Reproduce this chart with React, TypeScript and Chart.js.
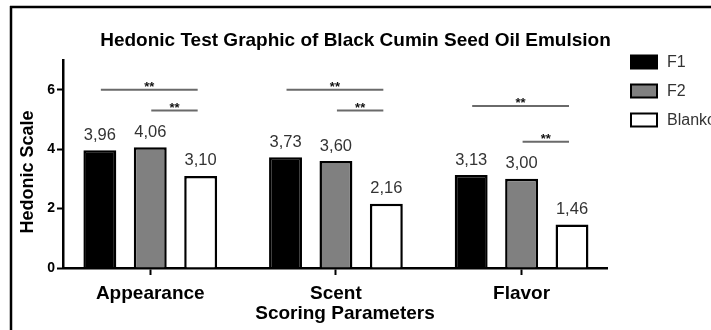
import React, { useEffect, useRef } from "react";
import { Chart, registerables } from "chart.js";

Chart.register(...registerables);

const FONT = "'Liberation Sans', Arial, Helvetica, sans-serif";

const categories = ["Appearance", "Scent", "Flavor"];
const seriesNames = ["F1", "F2", "Blanko"];
const f1Values = [3.96, 3.73, 3.13];
const f2Values = [4.06, 3.6, 3.0];
const blankoValues = [3.1, 2.16, 1.46];
const seriesFill = ["#000000", "#808080", "#ffffff"];

const titleText = "Hedonic Test Graphic of Black Cumin Seed Oil Emulsion";
const xTitleText = "Scoring Parameters";
const yTitleText = "Hedonic Scale";
const yMin = 0;
const yMax = 7;
const yStep = 2;

// significance brackets (category index, from series, to series, level, label)
const sigCategory = [0, 0, 1, 1, 2, 2];
const sigFromSeries = [0, 1, 0, 1, 0, 1];
const sigToSeries = [2, 2, 2, 2, 2, 2];
const sigLevel = [6.0, 5.3, 6.0, 5.3, 5.45, 4.25];
const sigLabel = ["**", "**", "**", "**", "**", "**"];

const formatValue = (v: number) => v.toFixed(2).replace(".", ",");

const framePlugin = {
  id: "frame",
  beforeDraw(chart: any) {
    const { ctx, width, height } = chart;
    ctx.save();
    ctx.strokeStyle = "#000";
    ctx.lineWidth = 2.5;
    ctx.beginPath();
    ctx.moveTo(10, 7);
    ctx.lineTo(width, 7);
    ctx.moveTo(11, 6);
    ctx.lineTo(11, height);
    ctx.stroke();
    ctx.restore();
  },
};

const valueLabelPlugin = {
  id: "valueLabels",
  afterDatasetsDraw(chart: any) {
    const ctx = chart.ctx;
    ctx.save();
    ctx.font = `16.5px ${FONT}`;
    ctx.fillStyle = "#333";
    ctx.textAlign = "center";
    ctx.textBaseline = "middle";
    chart.data.datasets.forEach((ds: any, di: number) => {
      const meta = chart.getDatasetMeta(di);
      meta.data.forEach((el: any, i: number) => {
        ctx.fillText(formatValue(ds.data[i].y), el.x, el.y - 15);
      });
    });
    ctx.restore();
  },
};

const sigPlugin = {
  id: "significance",
  afterDatasetsDraw(chart: any) {
    const ctx = chart.ctx;
    const ys = chart.scales.y;
    ctx.save();
    for (let i = 0; i < sigCategory.length; i++) {
      const a = chart.getDatasetMeta(sigFromSeries[i]).data[sigCategory[i]];
      const b = chart.getDatasetMeta(sigToSeries[i]).data[sigCategory[i]];
      const x1 = a.x + 1;
      const x2 = b.x - 3;
      const py = ys.getPixelForValue(sigLevel[i]);
      ctx.strokeStyle = "#6a6a6a";
      ctx.lineWidth = 2;
      ctx.beginPath();
      ctx.moveTo(x1, py);
      ctx.lineTo(x2, py);
      ctx.stroke();
      ctx.fillStyle = "#111";
      ctx.font = `bold 13px ${FONT}`;
      ctx.textAlign = "center";
      ctx.textBaseline = "alphabetic";
      ctx.fillText(sigLabel[i], (x1 + x2) / 2, py + 1);
    }
    ctx.restore();
  },
};

const legendAndTitlesPlugin = {
  id: "legendTitles",
  afterDraw(chart: any) {
    const ctx = chart.ctx;
    const area = chart.chartArea;
    ctx.save();
    // legend
    const bx = area.right + 24;
    chart.data.datasets.forEach((ds: any, i: number) => {
      const cy = area.top + 2 + i * 29;
      ctx.fillStyle = ds.backgroundColor;
      ctx.fillRect(bx, cy - 6.5, 26, 13);
      ctx.strokeStyle = "#000";
      ctx.lineWidth = 2;
      ctx.strokeRect(bx, cy - 6.5, 26, 13);
      ctx.fillStyle = "#333";
      ctx.font = `16px ${FONT}`;
      ctx.textAlign = "left";
      ctx.textBaseline = "middle";
      ctx.fillText(ds.label, bx + 36, cy + 1);
    });
    // axis titles
    ctx.fillStyle = "#000";
    ctx.font = `bold 19px ${FONT}`;
    ctx.textAlign = "center";
    ctx.textBaseline = "middle";
    ctx.fillText(xTitleText, (area.left + area.right) / 2 + 10, area.bottom + 46);
    ctx.font = `bold 18px ${FONT}`;
    ctx.translate(area.left - 35, (area.top + area.bottom) / 2 + 8);
    ctx.rotate(-Math.PI / 2);
    ctx.fillText(yTitleText, 0, 0);
    ctx.restore();
  },
};

export default function App() {
  const ref = useRef<HTMLCanvasElement>(null);

  useEffect(() => {
    document.body.style.margin = "0";
    Chart.defaults.font.family = FONT;
    const seriesValues = [f1Values, f2Values, blankoValues];
    const chart = new Chart(ref.current as HTMLCanvasElement, {
      type: "bar",
      data: {
        datasets: seriesNames.map((name, si) => ({
          label: name,
          data: seriesValues[si].map((v, i) => ({ x: i, y: v })),
          backgroundColor: seriesFill[si],
          borderColor: "#000",
          borderWidth: 2.5,
          categoryPercentage: 0.8145,
          barPercentage: 0.653,
        })),
      },
      options: {
        animation: false,
        responsive: true,
        maintainAspectRatio: false,
        layout: { padding: 0 },
        plugins: {
          legend: { display: false },
          tooltip: { enabled: false },
          title: {
            display: true,
            text: titleText,
            color: "#000",
            font: { size: 19, weight: "bold", family: FONT },
            padding: { top: 29, bottom: 8.2 },
          },
        },
        scales: {
          x: {
            type: "linear",
            min: -0.47,
            max: 2.46,
            offset: false,
            grid: {
              display: true,
              offset: false,
              drawOnChartArea: false,
              drawTicks: true,
              tickLength: 7,
              tickWidth: 2,
              tickColor: "#000",
            },
            border: { display: true, color: "#000", width: 2.5 },
            ticks: {
              stepSize: 1,
              includeBounds: false,
              autoSkip: false,
              maxRotation: 0,
              padding: 7,
              color: "#000",
              font: { size: 19, weight: "bold", family: FONT },
              callback: (v: any) => categories[v as number] ?? "",
            },
            afterFit: (s: any) => {
              s.height = 62;
            },
          },
          y: {
            min: yMin,
            max: yMax,
            grid: {
              drawOnChartArea: false,
              drawTicks: true,
              tickLength: 6,
              tickWidth: 2,
              tickColor: "#000",
            },
            border: { display: true, color: "#000", width: 2.5 },
            ticks: {
              stepSize: yStep,
              includeBounds: false,
              padding: 2,
              color: "#000",
              font: { size: 14, weight: "bold", family: FONT },
            },
            afterFit: (s: any) => {
              s.width = 63;
            },
          },
          yRight: {
            position: "right",
            display: true,
            grid: { display: false },
            ticks: { display: false },
            border: { display: false },
            afterFit: (s: any) => {
              s.width = 104;
            },
          },
        },
      } as any,
      plugins: [framePlugin, valueLabelPlugin, sigPlugin, legendAndTitlesPlugin],
    });
    return () => chart.destroy();
  }, []);

  return (
    <div style={{ position: "relative", width: 711, height: 330 }}>
      <canvas ref={ref} />
    </div>
  );
}
